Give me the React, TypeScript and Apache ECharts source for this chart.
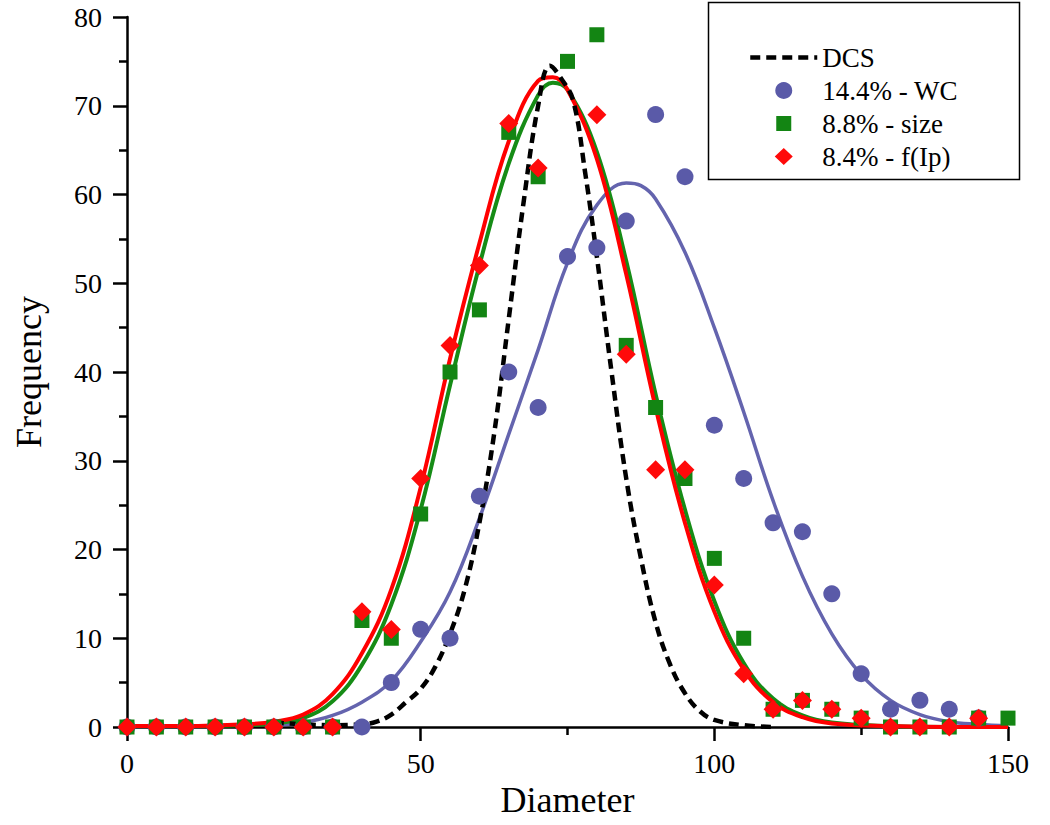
import React, { useEffect, useRef } from "react";
import * as echarts from "echarts";

const FONT = "'Liberation Serif', 'Times New Roman', serif";

// Measured points (diameter bins)
const binX = [0, 5, 10, 15, 20, 25, 30, 35, 40, 45, 50, 55, 60, 65, 70, 75, 80, 85, 90, 95, 100, 105, 110, 115, 120, 125, 130, 135, 140, 145, 150];
const wcFreq = [0, 0, 0, 0, 0, 0, 0, 0, 0, 5, 11, 10, 26, 40, 36, 53, 54, 57, 69, 62, 34, 28, 23, 22, 15, 6, 2, 3, 2, 1, null];
const sizeFreq = [0, 0, 0, 0, 0, 0, 0, 0, 12, 10, 24, 40, 47, 67, 62, 75, 78, 43, 36, 28, 19, 10, 2, 3, 2, 1, 0, 0, 0, 1, 1];
const ipFreq = [0, 0, 0, 0, 0, 0, 0, 0, 13, 11, 28, 43, 52, 68, 63, null, 69, 42, 29, 29, 16, 6, 2, 3, 2, 1, 0, 0, 0, 1, null];

// Fitted curves
const fitX = [0, 10, 20, 25, 30, 35, 40, 45, 50, 55, 60, 65, 70, 72.5, 75, 80, 85, 90, 95, 100, 105, 110, 115, 120, 130, 140, 150];
const fitIp = [0.1, 0.1, 0.3, 0.6, 1.4, 3.7, 8.3, 15.5, 27, 41.5, 54.5, 66, 72.8, 73.2, 71.8, 64, 51, 36, 23, 13, 6.5, 2.8, 1.1, 0.4, 0.1, 0, 0];
const fitSize = [0.1, 0.1, 0.2, 0.4, 1.0, 2.9, 7.0, 13.8, 24.5, 38.5, 52, 63.5, 71.2, 72.6, 71.8, 64.8, 52.5, 37.5, 24.5, 14.2, 7.2, 3.2, 1.3, 0.5, 0.1, 0, 0];

const fitWcX = [25, 30, 35, 40, 45, 50, 55, 60, 65, 70, 75, 80, 85, 87.5, 90, 95, 100, 105, 110, 115, 120, 125, 130, 135, 140, 145, 150];
const fitWc = [0.2, 0.5, 1.3, 2.8, 5.2, 9.6, 15.2, 23.5, 33, 42.5, 52.3, 58.8, 61.3, 61, 59.5, 53.5, 45, 35.5, 25.5, 17, 10.5, 5.9, 3, 1.4, 0.6, 0.3, 0.1];

const dcsX = [25, 30, 35, 40, 42.5, 45, 47.5, 50, 52.5, 55, 57.5, 60, 62.5, 65, 67.5, 70, 72, 74, 76, 78, 80, 82.5, 85, 87.5, 90, 92.5, 95, 97.5, 100, 105, 110];
const dcsY = [0.5, 0.3, 0.2, 0.3, 0.6, 1.4, 2.8, 4.3, 6.8, 10.5, 15.5, 23, 33, 46, 59, 70, 74.5, 73, 70.5, 62.5, 53, 40, 28, 19, 11.8, 7, 3.8, 1.8, 0.8, 0.2, 0];

const legendNames = ["DCS", "14.4% - WC", "8.8% - size", "8.4% - f(Ip)"];

const pairs = (xs: number[], ys: (number | null)[]) =>
  xs.map((x, i) => [x, ys[i]]).filter((p) => p[1] !== null && p[1] !== undefined);

// legend icon shapes inside a 67x17 box (tiny corner dots fix the box so the shape is not stretched)
const BOX = "M0 0h0.01v0.01h-0.01z M66.99 16.99h0.01v0.01h-0.01z ";
const squareIcon = "path://" + BOX + "M26 1h15v15h-15z";
const diamondIcon = "path://" + BOX + "M33.5 0L42.5 8.5L33.5 17L24.5 8.5z";

export default function App() {
  const ref = useRef<HTMLDivElement>(null);
  useEffect(() => {
    const chart = echarts.init(ref.current!, null, { renderer: "svg" });
    const axisLineStyle = { color: "#000", width: 2.5 };
    chart.setOption({
      animation: false,
      backgroundColor: "#fff",
      textStyle: { fontFamily: FONT, color: "#000" },
      grid: { left: 127, right: 42, top: 17, bottom: 98 },
      legend: {
        data: [
          {
            name: legendNames[0],
            itemStyle: { opacity: 0 },
            lineStyle: { width: 4.5, type: [10, 6], color: "#000" },
          },
          { name: legendNames[1], icon: "circle" },
          { name: legendNames[2], icon: squareIcon },
          { name: legendNames[3], icon: diamondIcon },
        ],
        orient: "vertical",
        left: 748,
        top: 44,
        itemWidth: 67,
        itemHeight: 17,
        itemGap: 6,
        padding: 0,
        selectedMode: false,
        textStyle: { fontSize: 27, fontFamily: FONT, color: "#000", lineHeight: 27 },
      },
      graphic: [
        {
          type: "rect",
          silent: true,
          shape: { x: 708.5, y: 2.5, width: 311, height: 177 },
          style: { fill: "none", stroke: "#000", lineWidth: 1.5 },
        },
      ],
      xAxis: {
        type: "value",
        min: 0,
        max: 150,
        interval: 50,
        name: "Diameter",
        nameLocation: "middle",
        nameGap: 52,
        nameTextStyle: { fontSize: 36, fontFamily: FONT, color: "#000" },
        axisLine: { show: true, onZero: false, lineStyle: axisLineStyle },
        axisTick: { show: true, inside: false, length: 14, lineStyle: axisLineStyle },
        minorTick: { show: true, splitNumber: 2, length: 8, lineStyle: axisLineStyle },
        splitLine: { show: false },
        minorSplitLine: { show: false },
        axisLabel: { fontSize: 28, fontFamily: FONT, color: "#000", margin: 22 },
      },
      yAxis: {
        type: "value",
        min: 0,
        max: 80,
        interval: 10,
        name: "Frequency",
        nameLocation: "middle",
        nameGap: 80,
        nameTextStyle: { fontSize: 36, fontFamily: FONT, color: "#000" },
        axisLine: { show: true, onZero: false, lineStyle: axisLineStyle },
        axisTick: { show: true, inside: false, length: 14, lineStyle: axisLineStyle },
        minorTick: { show: true, splitNumber: 2, length: 8, lineStyle: axisLineStyle },
        splitLine: { show: false },
        minorSplitLine: { show: false },
        axisLabel: { fontSize: 28, fontFamily: FONT, color: "#000", margin: 25 },
      },
      series: [
        {
          name: "fit WC",
          type: "line",
          data: pairs(fitWcX, fitWc),
          symbol: "none",
          smooth: 0.4,
          lineStyle: { color: "#6464ae", width: 3.5 },
          z: 2,
        },
        {
          name: "fit size",
          type: "line",
          data: pairs(fitX, fitSize),
          symbol: "none",
          smooth: 0.4,
          lineStyle: { color: "#168c16", width: 4 },
          z: 2,
        },
        {
          name: "fit Ip",
          type: "line",
          data: pairs(fitX, fitIp),
          symbol: "none",
          smooth: 0.4,
          lineStyle: { color: "#ff0000", width: 4 },
          z: 2,
        },
        {
          name: legendNames[0],
          type: "line",
          data: pairs(dcsX, dcsY),
          symbol: "none",
          smooth: 0.4,
          itemStyle: { color: "#000" },
          lineStyle: { color: "#000", width: 4.5, type: [10, 6] },
          z: 3,
        },
        {
          name: legendNames[1],
          type: "scatter",
          data: pairs(binX, wcFreq),
          symbol: "circle",
          symbolSize: 17,
          itemStyle: { color: "#5a5aa8", opacity: 1 },
          z: 4,
        },
        {
          name: legendNames[2],
          type: "scatter",
          data: pairs(binX, sizeFreq),
          symbol: "rect",
          symbolSize: 15,
          itemStyle: { color: "#138513", opacity: 1 },
          z: 4,
        },
        {
          name: legendNames[3],
          type: "scatter",
          data: pairs(binX, ipFreq),
          symbol: "diamond",
          symbolSize: 19,
          itemStyle: { color: "#ff0a0a", opacity: 1 },
          z: 4,
        },
      ],
    });
    return () => chart.dispose();
  }, []);
  return (
    <div
      ref={ref}
      style={{ position: "fixed", left: 0, top: 0, width: 1050, height: 825, background: "#fff" }}
    />
  );
}
